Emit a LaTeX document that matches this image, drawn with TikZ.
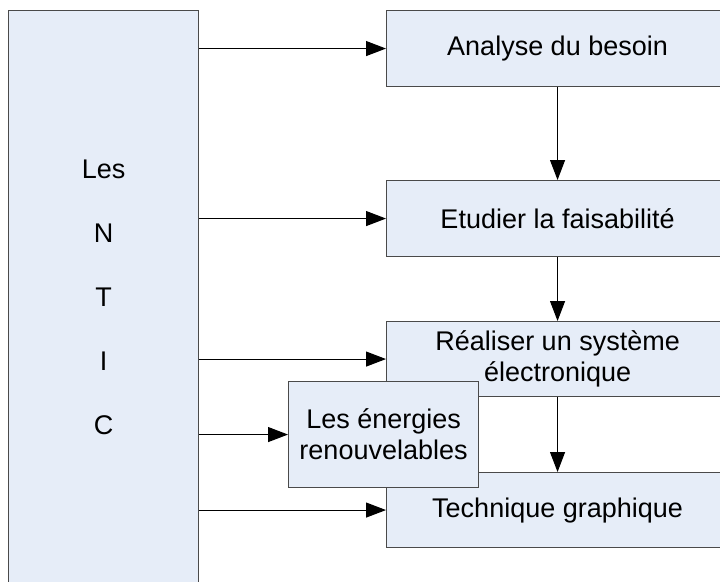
\documentclass[tikz,border=0pt]{standalone}
\usepackage{fontspec}
\setmainfont{Liberation Sans}
\usetikzlibrary{arrows.meta}
\definecolor{boxfill}{HTML}{E6EDF8}
\definecolor{boxline}{HTML}{4A4A4A}
\begin{document}
\begin{tikzpicture}[x=1pt,y=-1pt,
  box/.style={draw=boxline, fill=boxfill, line width=1.1pt, inner sep=0pt,
    font=\fontsize{27}{31}\selectfont, align=center, anchor=north west},
  arr/.style={-{Triangle[length=20pt,width=15pt]}, line width=1.1pt, draw=black}]
\useasboundingbox (0,0) rectangle (720,581);
\clip (0,0) rectangle (720,581);
\node[box, minimum width=190pt, minimum height=574pt, font=\fontsize{27}{64}\selectfont] (ntic) at (8,10) {Les\\N\\T\\I\\C};
\node[box, minimum width=342pt, minimum height=76pt] (a1) at (386,10) {Analyse du besoin};
\node[box, minimum width=342pt, minimum height=76pt] (a2) at (386,180) {Etudier la faisabilit\'e};
\node[box, minimum width=342pt, minimum height=75pt] (a3) at (386,321) {R\'ealiser un syst\`eme\\\'electronique};
\node[box, minimum width=342pt, minimum height=75pt] (a4) at (386,472) {Technique graphique};
\draw[arr] (a1.south) -- (a2.north);
\draw[arr] (a2.south) -- (a3.north);
\draw[arr] (a3.south) -- (a4.north);
\node[box, minimum width=190pt, minimum height=106pt] (en) at (288,381) {Les \'energies\\renouvelables};
\draw[arr] (ntic.east |- a1.west) -- (a1.west);
\draw[arr] (ntic.east |- a2.west) -- (a2.west);
\draw[arr] (ntic.east |- a3.west) -- (a3.west);
\draw[arr] (ntic.east |- en.west) -- (en.west);
\draw[arr] (ntic.east |- a4.west) -- (a4.west);
\end{tikzpicture}
\end{document}
